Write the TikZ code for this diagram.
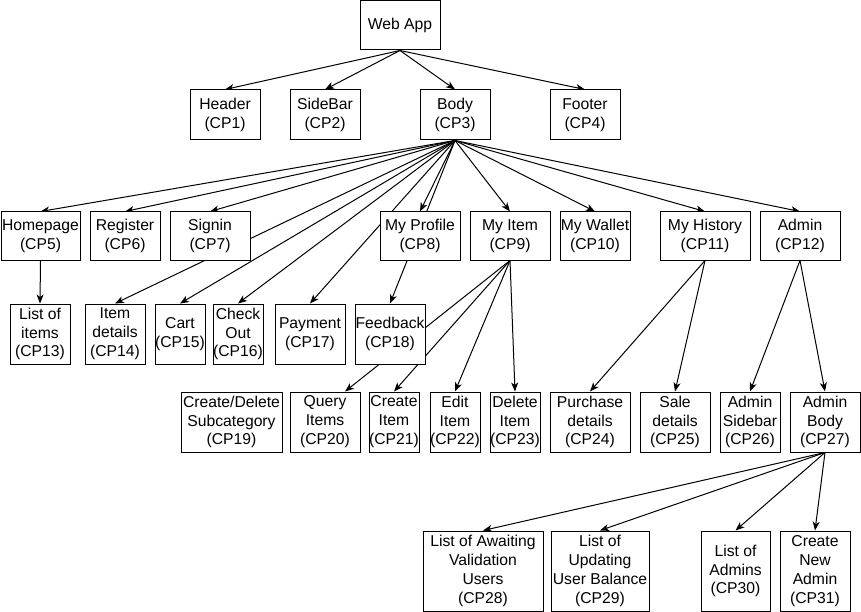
\documentclass[tikz,border=0pt]{standalone}
\usepackage{fontspec}
\setmainfont{Liberation Sans}
\usetikzlibrary{arrows.meta}
\pgfdeclarelayer{bg}
\pgfsetlayers{bg,main}

\begin{document}
\begin{tikzpicture}[
  x=1pt, y=-1pt,
  box/.style={draw, line width=1pt, fill=white, align=center, inner sep=0pt, minimum height=#1, font=\fontsize{15.7}{18.9}\selectfont},
  arr/.style={-{Stealth[length=9pt, width=7pt, inset=2.5pt]}, line width=1pt}
]
\useasboundingbox (0,0) rectangle (861,612);
% top
\node[box=49pt, minimum width=80pt] (webapp) at (400,25.5) {Web App};
\node[box=50pt, minimum width=70pt] (header) at (225,115) {Header\\(CP1)};
\node[box=50pt, minimum width=70pt] (sidebar) at (325,115) {SideBar\\(CP2)};
\node[box=50pt, minimum width=70pt] (body) at (455,115) {Body\\(CP3)};
\node[box=50pt, minimum width=70pt] (footer) at (585,115) {Footer\\(CP4)};
% pages
\node[box=48pt, minimum width=79pt] (home) at (40.5,236) {Homepage\\(CP5)};
\node[box=48pt, minimum width=70pt] (register) at (125,236) {Register\\(CP6)};
\node[box=48pt, minimum width=80pt] (signin) at (210,236) {Signin\\(CP7)};
\node[box=48pt, minimum width=80pt] (profile) at (420,236) {My Profile\\(CP8)};
\node[box=48pt, minimum width=80pt] (myitem) at (510,236) {My Item\\(CP9)};
\node[box=48pt, minimum width=70pt] (wallet) at (595,236) {My Wallet\\(CP10)};
\node[box=48pt, minimum width=90pt] (history) at (705,236) {My History\\(CP11)};
\node[box=48pt, minimum width=80pt] (admin) at (800,236) {Admin\\(CP12)};
% third row
\node[box=60pt, minimum width=60pt] (items) at (40,334) {List of\\items\\(CP13)};
\node[box=60pt, minimum width=60pt] (details) at (115,334) {Item\\details\\(CP14)};
\node[box=60pt, minimum width=50pt] (cart) at (180,334) {Cart\\(CP15)};
\node[box=60pt, minimum width=50pt] (checkout) at (238,334) {Check\\Out\\(CP16)};
\node[box=60pt, minimum width=70pt] (payment) at (310,334) {Payment\\(CP17)};
\node[box=60pt, minimum width=70pt] (feedback) at (390,334) {Feedback\\(CP18)};
% fourth row
\node[box=60pt, minimum width=101pt] (subcat) at (231.5,422) {Create/Delete\\Subcategory\\(CP19)};
\node[box=60pt, minimum width=70pt] (query) at (325,422) {Query\\Items\\(CP20)};
\node[box=60pt, minimum width=50pt] (create) at (394,422) {Create\\Item\\(CP21)};
\node[box=60pt, minimum width=50pt] (edit) at (455,422) {Edit\\Item\\(CP22)};
\node[box=60pt, minimum width=50pt] (delete) at (515,422) {Delete\\Item\\(CP23)};
\node[box=60pt, minimum width=80pt] (purchase) at (590,422) {Purchase\\details\\(CP24)};
\node[box=60pt, minimum width=70pt] (sale) at (675,422) {Sale\\details\\(CP25)};
\node[box=60pt, minimum width=60pt] (adminside) at (750,422) {Admin\\Sidebar\\(CP26)};
\node[box=60pt, minimum width=70pt] (adminbody) at (825,422) {Admin\\Body\\(CP27)};
% admin body
\node[box=80pt, minimum width=120pt] (awaiting) at (483,571) {List of Awaiting\\Validation\\Users\\(CP28)};
\node[box=80pt, minimum width=98pt] (updating) at (600,571) {List of\\Updating\\User Balance\\(CP29)};
\node[box=80pt, minimum width=69pt] (admins) at (735.5,571) {List of\\Admins\\(CP30)};
\node[box=80pt, minimum width=70pt] (newadmin) at (815,571) {Create\\New\\Admin\\(CP31)};

\begin{pgfonlayer}{bg}
\draw[arr] (webapp.south) -- (header.north);
\draw[arr] (webapp.south) -- (sidebar.north);
\draw[arr] (webapp.south) -- (body.north);
\draw[arr] (webapp.south) -- (footer.north);
\draw[arr] (body.south) -- (home.north);
\draw[arr] (body.south) -- (register.north);
\draw[arr] (body.south) -- (signin.north);
\draw[arr] (body.south) -- (details.north);
\draw[arr] (body.south) -- (cart.north);
\draw[arr] (body.south) -- (checkout.north);
\draw[arr] (body.south) -- (payment.north);
\draw[arr] (body.south) -- (profile.north);
\draw[arr] (body.south) -- (feedback.north);
\draw[arr] (body.south) -- (myitem.north);
\draw[arr] (body.south) -- (wallet.north);
\draw[arr] (body.south) -- (history.north);
\draw[arr] (body.south) -- (admin.north);
\draw[arr] (home.south) -- (items.north);
\draw[arr] (myitem.south) -- ([xshift=20pt]query.north);
\draw[arr] (myitem.south) -- (create.north);
\draw[arr] (myitem.south) -- (edit.north);
\draw[arr] (myitem.south) -- (delete.north);
\draw[arr] (history.south) -- (purchase.north);
\draw[arr] (history.south) -- (sale.north);
\draw[arr] (admin.south) -- (adminside.north);
\draw[arr] (admin.south) -- (adminbody.north);
\draw[arr] (adminbody.south) -- (awaiting.north);
\draw[arr] (adminbody.south) -- (updating.north);
\draw[arr] (adminbody.south) -- (admins.north);
\draw[arr] (adminbody.south) -- (newadmin.north);
\end{pgfonlayer}
\end{tikzpicture}
\end{document}
